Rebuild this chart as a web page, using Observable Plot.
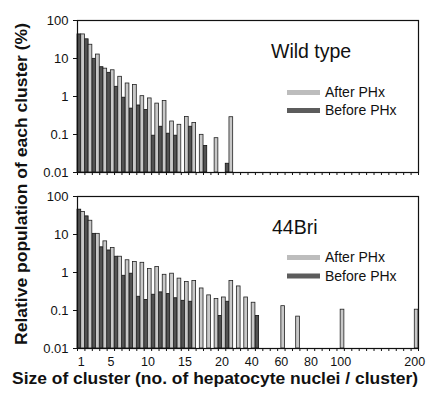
<!DOCTYPE html>
<html>
<head>
<meta charset="utf-8">
<script src="https://cdn.jsdelivr.net/npm/d3@7"></script>
<script src="https://cdn.jsdelivr.net/npm/@observablehq/plot@0.6"></script>
<style>
  html, body { margin: 0; padding: 0; background: #fff; }
  #wrap { position: relative; width: 429px; height: 394px; overflow: hidden; font-family: "Liberation Sans", Arial, sans-serif; }
  #wrap > svg, #wrap > div { position: absolute; left: 0; }
</style>
</head>
<body>
<div id="wrap"></div>
<script>
// Cluster sizes: one slot each (1..20 singly, then binned up to 200)
const sizes = [1,2,3,4,5,6,7,8,9,10,11,12,13,14,15,16,17,18,19,20,
  25,30,35,40,45,50,55,60,65,70,75,80,85,90,95,100,
  110,120,130,140,150,160,170,180,190,200];
const tickLabels = [1,5,10,15,20,40,60,80,100,200];
const yTicks = [0.01, 0.1, 1, 10, 100];

// Wild type (% of clusters)
const wildBefore = [43,32,9.8,5.9,4.2,1.8,0.93,0.48,0.58,0.44,0.093,0.16,0.105,0.093,null,0.16,null,0.05,null,null,0.017,
  null,null,null,null,null,null,null,null,null,null,null,null,null,null,null,null,null,null,null,null,null,null,null,null,null];
const wildAfter = [43,23,12.7,5.4,4.9,3.3,2.2,2.0,1.02,0.89,0.65,0.76,0.22,0.18,0.29,0.20,0.098,null,0.08,null,0.285,
  null,null,null,null,null,null,null,null,null,null,null,null,null,null,null,null,null,null,null,null,null,null,null,null,null];
// 44Bri
const briBefore = [45,30,10.4,4.6,3.8,2.6,0.82,0.93,0.23,0.19,0.26,0.30,0.27,0.21,0.18,0.17,null,null,null,0.072,0.17,null,null,null,0.072,
  null,null,null,null,null,null,null,null,null,null,null,null,null,null,null,null,null,null,null,null,null];
const briAfter = [39,23,10.4,6.6,4.4,2.6,2.1,1.9,1.8,1.23,1.4,0.87,0.93,0.69,0.56,0.60,0.38,0.25,0.20,0.22,0.60,0.43,0.22,0.16,
  null,null,null,0.13,null,0.069,null,null,null,null,null,0.105,null,null,null,null,null,null,null,null,null,0.105];

const darkFill = "#525252", lightFill = "#c8c8c8";

function panel(before, after, showLabels, height, marginBottom) {
  const rows = sizes.map((s, i) => ({slot: i + 1, size: s, before: before[i], after: after[i]}));
  const svg = Plot.plot({
    width: 429, height, marginLeft: 77, marginRight: 11, marginTop: 20, marginBottom,
    x: {type: "linear", domain: [0, sizes.length]},
    y: {type: "log", domain: [0.01, 100]},
    style: {fontFamily: "'Liberation Sans', Arial, sans-serif", fontSize: "13px", background: "transparent", color: "#111", overflow: "visible"},
    marks: [
      Plot.rectY(rows.filter(d => d.before != null), {
        x1: d => d.slot - 1, x2: d => d.slot - 0.5, y1: 0.01, y2: "before",
        fill: darkFill, stroke: "#111", strokeWidth: 0.8
      }),
      Plot.rectY(rows.filter(d => d.after != null), {
        x1: d => d.slot - 0.5, x2: d => d.slot, y1: 0.01, y2: "after",
        fill: lightFill, stroke: "#222", strokeWidth: 0.8
      }),
      Plot.frame({stroke: "#111", strokeWidth: 1.2}),
      Plot.axisY({ticks: yTicks, tickFormat: d => String(d), tickSize: 4, tickPadding: 5, label: null, fontSize: 13, stroke: "#111"}),
      Plot.axisX({ticks: d3.range(0, sizes.length + 1), tickFormat: () => "", tickSize: 3, label: null, stroke: "#111"}),
      showLabels ? Plot.axisX({
        ticks: tickLabels.map(v => sizes.indexOf(v) + 0.5),
        tickFormat: d => String(sizes[Math.floor(d)]),
        tickSize: 0, tickPadding: 9, label: null, fontSize: 12.5
      }) : null
    ]
  });
  // drop the empty labels of the tick-only axis
  d3.select(svg).selectAll("text").filter(function() { return this.textContent === ""; }).remove();
  return svg;
}

const wrap = document.getElementById("wrap");
const top1 = panel(wildBefore, wildAfter, false, 176, 4);
top1.style.top = "0px";
wrap.appendChild(top1);
const bot = panel(briBefore, briAfter, true, 218, 46);
bot.style.top = "176px";
wrap.appendChild(bot);

// Overlay: titles, panel labels, legends
const ov = d3.create("svg").attr("width", 429).attr("height", 394)
  .style("position", "absolute").style("top", "0px").style("left", "0px")
  .style("font-family", "'Liberation Sans', Arial, sans-serif").style("pointer-events", "none");

ov.append("text").attr("transform", "translate(27,184) rotate(-90)")
  .attr("text-anchor", "middle").attr("font-weight", "bold").attr("font-size", 17)
  .attr("textLength", 322).attr("lengthAdjust", "spacingAndGlyphs").attr("fill", "#111")
  .text("Relative population of each cluster (%)");
ov.append("text").attr("x", 215).attr("y", 384)
  .attr("text-anchor", "middle").attr("font-weight", "bold").attr("font-size", 16.5)
  .attr("textLength", 406).attr("lengthAdjust", "spacingAndGlyphs").attr("fill", "#111")
  .text("Size of cluster (no. of hepatocyte nuclei / cluster)");

const panels = [
  {label: "Wild type", lx: 271, ly: 58, after: 92.5, before: 110.5},
  {label: "44Bri", lx: 272, ly: 234, after: 257.5, before: 276}
];
const legendItems = [{key: "after", text: "After PHx", color: "#bdbdbd"}, {key: "before", text: "Before PHx", color: "#5c5c5c"}];
for (const p of panels) {
  ov.append("text").attr("x", p.lx).attr("y", p.ly).attr("font-size", 19.5).attr("fill", "#111").text(p.label);
  for (const it of legendItems) {
    ov.append("rect").attr("x", 287).attr("y", p[it.key] - 2.5).attr("width", 33).attr("height", 5).attr("fill", it.color);
    ov.append("text").attr("x", 325).attr("y", p[it.key] + 4.6).attr("font-size", 14).attr("fill", "#111").text(it.text);
  }
}
wrap.appendChild(ov.node());
</script>
</body>
</html>
